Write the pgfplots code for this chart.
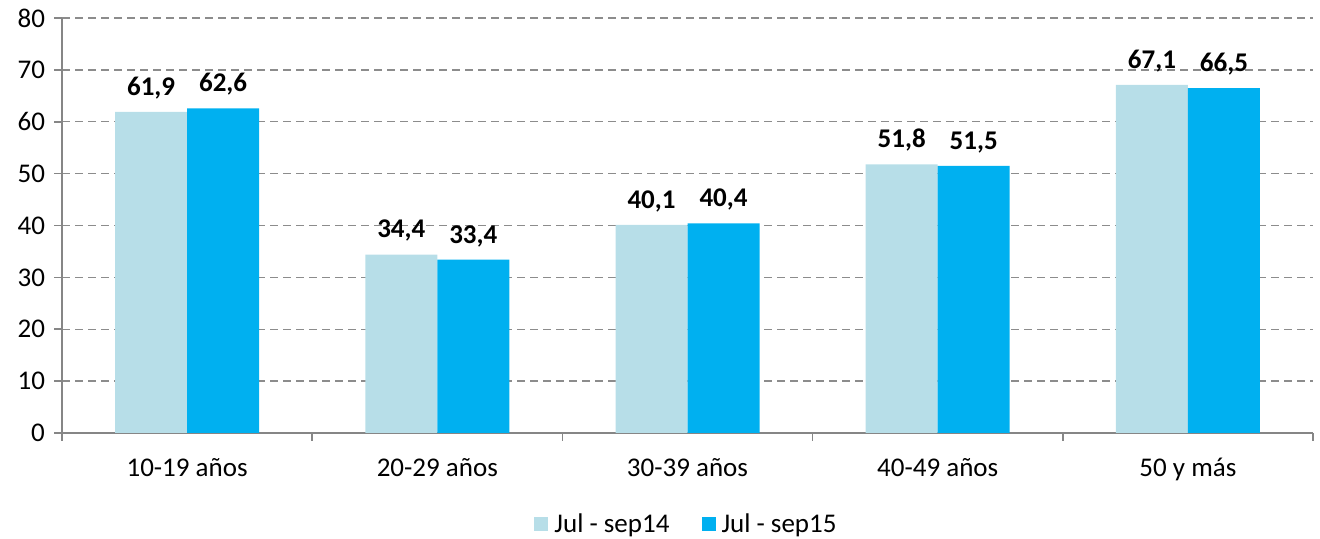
\documentclass[border=0pt]{standalone}
\usepackage{pgfplots}
\pgfplotsset{compat=1.18}
\usepackage{fontspec}
\setmainfont{Carlito}
\definecolor{light}{HTML}{B7DEE8}
\definecolor{cyanb}{HTML}{00B0F0}
\definecolor{axgray}{HTML}{868686}
\definecolor{gridgray}{HTML}{8C8C8C}
\begin{document}
\begin{tikzpicture}
\path[use as bounding box] (0,0) rectangle (660pt,269.5pt);
\begin{axis}[
  at={(31pt,53pt)}, anchor=south west,
  scale only axis,
  width=625.5pt, height=207.5pt,
  ybar=0pt, bar width=36pt,
  xmin=-0.5, xmax=4.5,
  ymin=0, ymax=80,
  xtick={0,1,2,3,4},
  xticklabels={10-19 años,20-29 años,30-39 años,40-49 años,50 y más},
  minor xtick={-0.5,0.5,1.5,2.5,3.5,4.5},
  ytick={0,10,...,80},
  major x tick style={draw=none},
  tick align=outside, tick pos=left,
  major tick length=4pt, minor tick length=4pt,
  tick style={axgray, line width=0.8pt},
  axis x line*=bottom, axis y line*=left,
  axis line style={axgray, line width=0.8pt},
  ymajorgrids, grid style={gridgray, dash pattern=on 4pt off 2.5pt, line width=0.7pt},
  xticklabel style={font=\fontsize{13.5}{15}\selectfont, yshift=-5pt},
  yticklabel style={font=\fontsize{13.5}{15}\selectfont, xshift=-1pt},
  /pgf/number format/assume math mode=true,
  nodes near coords={\pgfmathprintnumber[fixed,fixed zerofill,precision=1,use comma]{\pgfplotspointmeta}},
  every node near coord/.append style={font=\bfseries\fontsize{13.5}{15}\selectfont, black, yshift=3pt},
  legend style={at={(0.5,-0.22)}, anchor=center, draw=none, legend columns=2,
    font=\fontsize{13.5}{15}\selectfont,
    /tikz/every odd column/.append style={column sep=1pt},
    /tikz/every even column/.append style={column sep=14pt}},
  legend image code/.code={\fill[#1] (0pt,-3.5pt) rectangle (7pt,3.5pt);},
]
\addplot[fill=light, draw=none] coordinates {(0,61.9) (1,34.4) (2,40.1) (3,51.8) (4,67.1)};
\addlegendentry{Jul - sep14}
\addplot[fill=cyanb, draw=none] coordinates {(0,62.6) (1,33.4) (2,40.4) (3,51.5) (4,66.5)};
\addlegendentry{Jul - sep15}
\end{axis}
\end{tikzpicture}
\end{document}
